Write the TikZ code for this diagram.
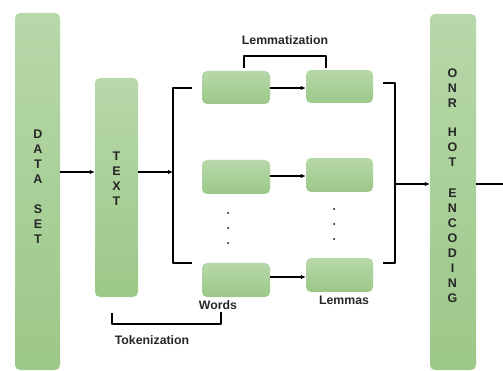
\documentclass[tikz,border=0pt]{standalone}
\usepackage{fontspec}
\setmainfont{Liberation Sans}
\usetikzlibrary{arrows.meta}
\definecolor{gtop}{RGB}{183,216,169}
\definecolor{gbot}{RGB}{156,200,136}
\tikzset{
  gbox/.style={rounded corners=5pt, top color=gtop, bottom color=gbot, draw=none, inner sep=0pt},
  conn/.style={line width=1.3pt, black, line join=round},
  arr/.style={conn, -{Latex[length=5pt,width=4.5pt]}},
  lbl/.style={font=\fontsize{12.3}{14}\selectfont\bfseries, text=black!85},
  vtext/.style={font=\fontsize{12.5}{15}\selectfont\bfseries, align=center, text=black!85, inner sep=0pt},
  dotm/.style={circle, fill=black, inner sep=0pt, minimum size=2pt}
}
\begin{document}
\begin{tikzpicture}[x=1pt,y=-1pt]
\useasboundingbox (0,0) rectangle (503,371);
% tall boxes
\node[gbox, minimum width=45pt, minimum height=357pt] (ds) at (37.5,191.5) {};
\node[gbox, minimum width=43pt, minimum height=219pt] (txt) at (116.5,187.5) {};
\node[gbox, minimum width=46pt, minimum height=356pt] (ohe) at (453,192) {};
\node[vtext] (dst) at (38,186.5) {D\\A\\T\\A\\[15pt]S\\E\\T};
\node[vtext] (txtt) at (116.5,178.5) {T\\E\\X\\T};
\node[vtext] (ohet) at (452.5,186) {O\\N\\R\\[14pt]H\\O\\T\\[16pt]E\\N\\C\\O\\D\\I\\N\\G};
% small boxes
\node[gbox, minimum width=68pt, minimum height=33pt] (w1) at (236,87.5) {};
\node[gbox, minimum width=67pt, minimum height=33pt] (l1) at (339.5,86.5) {};
\node[gbox, minimum width=68pt, minimum height=34pt] (w2) at (236,177) {};
\node[gbox, minimum width=67pt, minimum height=34pt] (l2) at (339.5,175) {};
\node[gbox, minimum width=68pt, minimum height=34pt] (w3) at (236,280) {};
\node[gbox, minimum width=67pt, minimum height=34pt] (l3) at (339.5,275) {};
% coordinates
\coordinate (ya) at (0,172);
\coordinate (yb) at (0,184);
\coordinate (y1) at (0,88);
\coordinate (y2) at (0,176);
\coordinate (y3) at (0,277);
\coordinate (lbm) at (173,172);
\coordinate (lbt) at (192,88);
\coordinate (lbtc) at (173,88);
\coordinate (lbbc) at (173,263);
\coordinate (lbb) at (192,263);
\coordinate (rbt) at (383,83);
\coordinate (rbtc) at (395,83);
\coordinate (rbbc) at (395,263);
\coordinate (rbb) at (383,263);
\coordinate (rbm) at (395,184);
\coordinate (outend) at (504,184);
\coordinate (lema) at (244,68);
\coordinate (lemb) at (244,56);
\coordinate (lemc) at (326,56);
\coordinate (lemd) at (326,68);
\coordinate (toka) at (112,313);
\coordinate (tokb) at (112,324);
\coordinate (tokc) at (221,324);
\coordinate (tokd) at (221,312);
% arrows
\draw[arr] (ds.east |- ya) -- (txt.west |- ya);
\draw[arr] (txt.east |- ya) -- (lbm);
\draw[conn] (lbt) -- (lbtc) -- (lbbc) -- (lbb);
\draw[arr] (w1.east |- y1) -- (l1.west |- y1);
\draw[arr] (w2.east |- y2) -- (l2.west |- y2);
\draw[arr] (w3.east |- y3) -- (l3.west |- y3);
\draw[conn] (rbt) -- (rbtc) -- (rbbc) -- (rbb);
\draw[arr] (rbm) -- (ohe.west |- rbm);
\draw[conn] (ohe.east |- yb) -- (outend);
\draw[conn] (lema) -- (lemb) -- (lemc) -- (lemd);
\draw[conn] (toka) -- (tokb) -- (tokc) -- (tokd);
% dots
\node[dotm] (d1) at (228,213) {};
\node[dotm] (d2) at (228,228) {};
\node[dotm] (d3) at (228,243) {};
\node[dotm] (d4) at (334,209) {};
\node[dotm] (d5) at (334,224) {};
\node[dotm] (d6) at (334,239) {};
% labels
\node[lbl] (lemlbl) at (285,40) {Lemmatization};
\node[lbl] (toklbl) at (152,340) {Tokenization};
\node[lbl] (wlbl) at (218,305) {Words};
\node[lbl] (llbl) at (344,300) {Lemmas};
\end{tikzpicture}
\end{document}
